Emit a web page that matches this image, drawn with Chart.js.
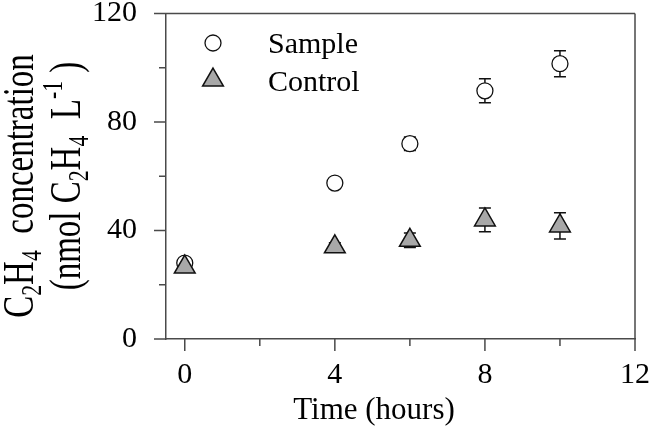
<!DOCTYPE html>
<html>
<head>
<meta charset="utf-8">
<script src="https://cdn.jsdelivr.net/npm/chart.js@4.4.1/dist/chart.umd.min.js"></script>
<style>
  html, body { margin: 0; padding: 0; background: #fff; }
</style>
</head>
<body>
<canvas id="myChart" width="650" height="429"></canvas>
<script>
const hours = [0, 4, 6, 8, 10];
const sampleValues = [28, 57.5, 72, 91.5, 101.5];
const sampleErrors = [1, 1.5, 2.5, 4.4, 4.8];
const controlValues = [26.5, 34, 36.4, 43.9, 41.7];
const controlErrors = [1, 1.5, 2.7, 4.4, 4.8];
const xTicks = [0, 2, 4, 6, 8, 10, 12];
const xTickLabels = ['0', '', '4', '', '8', '', '12'];
const yTicks = [0, 20, 40, 60, 80, 100, 120];
const yTickLabels = ['0', '', '40', '', '80', '', '120'];

const serif = "'Liberation Serif', 'Times New Roman', serif";
const axisColor = '#4a4a4a';

const ctx = document.getElementById('myChart');

// vertical error bars, drawn behind the markers
const errorBars = {
    id: 'errorBars',
    beforeDatasetsDraw(chart) {
        const c = chart.ctx;
        const xs = chart.scales.x, ys = chart.scales.y;
        c.save();
        c.strokeStyle = '#111';
        c.lineWidth = 1.5;
        chart.data.datasets.forEach(ds => {
            ds.data.forEach((p, i) => {
                const e = ds.errors[i];
                const px = xs.getPixelForValue(p.x);
                const top = ys.getPixelForValue(p.y + e);
                const bot = ys.getPixelForValue(p.y - e);
                c.beginPath();
                c.moveTo(px, top); c.lineTo(px, bot);
                c.moveTo(px - 6, top); c.lineTo(px + 6, top);
                c.moveTo(px - 6, bot); c.lineTo(px + 6, bot);
                c.stroke();
            });
        });
        c.restore();
    }
};

// text with sub/superscripts, centred on 0 in the current transform
function drawRich(c, parts, size) {
    const small = Math.round(size * 0.65);
    let w = 0;
    parts.forEach(p => {
        c.font = (p.s ? small : size) + 'px ' + serif;
        p.w = c.measureText(p.t).width;
        w += p.w;
    });
    let x = -w / 2;
    parts.forEach(p => {
        c.font = (p.s ? small : size) + 'px ' + serif;
        let dy = 0;
        if (p.s === 'sub') dy = size * 0.18;
        if (p.s === 'sup') dy = -size * 0.4;
        c.fillText(p.t, x, dy);
        x += p.w;
    });
}

const decorations = {
    id: 'decorations',
    afterDraw(chart) {
        const c = chart.ctx;
        const a = chart.chartArea;
        const xs = chart.scales.x, ys = chart.scales.y;
        c.save();
        c.strokeStyle = axisColor;
        c.lineWidth = 1.5;
        c.beginPath();
        // frame top and right
        c.moveTo(a.left, a.top); c.lineTo(a.right, a.top);
        c.moveTo(a.right, a.top); c.lineTo(a.right, a.bottom);
        // tick marks, long for labelled ones
        xTicks.forEach((v, i) => {
            const px = xs.getPixelForValue(v);
            c.moveTo(px, a.bottom);
            c.lineTo(px, a.bottom + (xTickLabels[i] ? 12 : 7));
        });
        yTicks.forEach((v, i) => {
            const py = ys.getPixelForValue(v);
            c.moveTo(a.left, py);
            c.lineTo(a.left - (yTickLabels[i] ? 12 : 7), py);
        });
        c.stroke();

        // legend
        c.textBaseline = 'alphabetic';
        c.textAlign = 'left';
        const items = [
            {ds: chart.data.datasets[1], y: 43, ty: 53},
            {ds: chart.data.datasets[0], y: 80, ty: 91}
        ];
        items.forEach(it => {
            c.fillStyle = it.ds.backgroundColor;
            c.strokeStyle = it.ds.borderColor;
            c.lineWidth = it.ds.borderWidth;
            Chart.helpers.drawPoint(c, {
                pointStyle: it.ds.pointStyle,
                radius: it.ds.pointRadius,
                borderWidth: it.ds.borderWidth,
                rotation: 0
            }, 213, it.y);
            c.fillStyle = '#000';
            c.font = '30px ' + serif;
            c.fillText(it.ds.label, 268, it.ty);
        });

        // x title
        c.font = '31px ' + serif;
        const xt = 'Time (hours)';
        c.fillText(xt, 374 - c.measureText(xt).width / 2, 419);

        // y title, two rotated lines
        const lines = [
            {bx: 33, cy: 186, parts: [{t: 'C'}, {t: '2', s: 'sub'}, {t: 'H'}, {t: '4', s: 'sub'}, {t: '  concentration'}]},
            {bx: 80, cy: 176, parts: [{t: '(nmol C'}, {t: '2', s: 'sub'}, {t: 'H'}, {t: '4', s: 'sub'}, {t: '  L'}, {t: '-1', s: 'sup'}, {t: ' )'}]}
        ];
        lines.forEach(l => {
            c.save();
            c.translate(l.bx, l.cy);
            c.rotate(-Math.PI / 2);
            c.scale(0.75, 1);
            drawRich(c, l.parts, 44);
            c.restore();
        });
        c.restore();
    }
};

function fixScale(scale, size) {
    if (scale.isHorizontal()) scale.height = size; else scale.width = size;
    scale.paddingLeft = 0; scale.paddingRight = 0;
    scale.paddingTop = 0; scale.paddingBottom = 0;
}

new Chart(ctx, {
    type: 'scatter',
    data: {
        datasets: [{
            label: 'Control',
            data: hours.map((h, i) => ({x: h, y: controlValues[i]})),
            errors: controlErrors,
            pointStyle: 'triangle',
            pointRadius: 12,
            pointHoverRadius: 12,
            backgroundColor: '#a8a8a8',
            borderColor: '#111',
            borderWidth: 1.5
        }, {
            label: 'Sample',
            data: hours.map((h, i) => ({x: h, y: sampleValues[i]})),
            errors: sampleErrors,
            pointStyle: 'circle',
            pointRadius: 8,
            pointHoverRadius: 8,
            backgroundColor: '#fff',
            borderColor: '#111',
            borderWidth: 1.3
        }]
    },
    options: {
        responsive: false,
        animation: false,
        events: [],
        layout: { padding: { left: 0, top: 11, right: 15, bottom: 0 } },
        plugins: {
            legend: { display: false },
            tooltip: { enabled: false }
        },
        scales: {
            x: {
                type: 'linear',
                min: -0.5,
                max: 12,
                afterBuildTicks: s => { s.ticks = xTicks.map(v => ({value: v})); },
                afterFit: s => fixScale(s, 90),
                ticks: {
                    callback: (v, i) => xTickLabels[i],
                    color: '#000',
                    font: { family: serif, size: 30 },
                    padding: 6,
                    maxRotation: 0,
                    autoSkip: false
                },
                grid: { display: false, drawTicks: true, tickLength: 12 },
                border: { display: true, color: axisColor, width: 1.5 }
            },
            y: {
                min: 0,
                max: 120,
                afterBuildTicks: s => { s.ticks = yTicks.map(v => ({value: v})); },
                afterFit: s => fixScale(s, 166),
                ticks: {
                    callback: (v, i) => yTickLabels[i],
                    color: '#000',
                    font: { family: serif, size: 30 },
                    padding: 17,
                    autoSkip: false
                },
                grid: { display: false, drawTicks: true, tickLength: 12 },
                border: { display: true, color: axisColor, width: 1.5 }
            }
        }
    },
    plugins: [errorBars, decorations]
});
</script>
</body>
</html>
